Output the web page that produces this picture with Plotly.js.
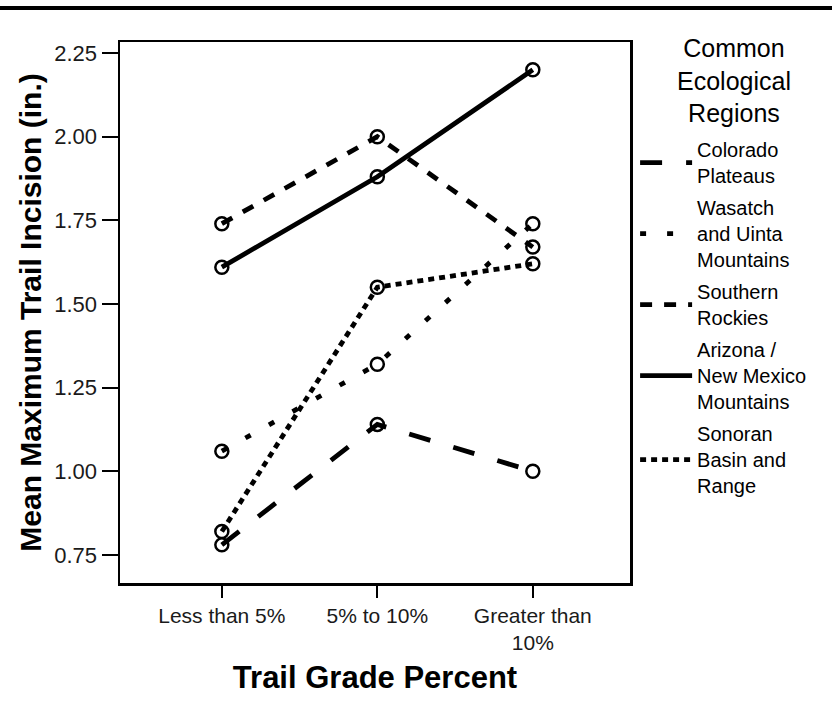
<!DOCTYPE html>
<html>
<head>
<meta charset="utf-8">
<script src="https://cdn.plot.ly/plotly-3.0.1.min.js"></script>
<style>html,body{margin:0;padding:0;background:#fff;}#chart{width:832px;height:701px;}</style>
</head>
<body>
<div id="chart"></div>
<script>
const categories = ["Less than 5%", "5% to 10%", "Greater than<br>10%"];
const seriesNames = ["Colorado<br>Plateaus", "Wasatch<br>and Uinta<br>Mountains", "Southern<br>Rockies", "Arizona /<br>New Mexico<br>Mountains", "Sonoran<br>Basin and<br>Range"];
const colorado = [0.78, 1.14, 1.00];
const wasatch = [1.06, 1.32, 1.74];
const southern = [1.74, 2.00, 1.67];
const arizona = [1.61, 1.88, 2.20];
const sonoran = [0.82, 1.55, 1.62];
const yTicks = [0.75, 1.00, 1.25, 1.50, 1.75, 2.00, 2.25];
const legendTitle = "Common<br>Ecological<br>Regions";

const series = [colorado, wasatch, southern, arizona, sonoran];
const dashes = ["22px,24px", "6px,21px", "12px,12px", "solid", "6px,5px"];

const FONT = "Liberation Sans, Arial, sans-serif";
const traces = [];
series.forEach((vals, i) => {
  traces.push({
    x: [0, 1, 2], y: vals, name: seriesNames[i], legendgroup: "g" + i,
    type: "scatter", mode: "lines",
    line: {color: "#000", width: 4.8, dash: dashes[i]}
  });
  traces.push({
    x: [0, 1, 2], y: vals, name: seriesNames[i], legendgroup: "g" + i, showlegend: false,
    type: "scatter", mode: "markers",
    marker: {symbol: "circle-open", size: 13, color: "#000", line: {width: 2.5, color: "#000"}}
  });
});

const layout = {
  width: 832, height: 701,
  margin: {l: 120, r: 202, t: 42, b: 118},
  paper_bgcolor: "#fff", plot_bgcolor: "#fff",
  font: {family: FONT, color: "#000"},
  showlegend: true,
  xaxis: {
    range: [-0.655, 2.625],
    tickvals: [0, 1, 2], ticktext: categories,
    ticks: "outside", ticklen: 12, tickwidth: 2, tickcolor: "#000",
    showline: true, linewidth: 2.5, linecolor: "#000", mirror: true,
    showgrid: false, zeroline: false,
    tickfont: {size: 21, color: "#1a1a1a"},
    title: {text: "<b>Trail Grade Percent</b>", font: {size: 31, family: FONT}, standoff: 14}
  },
  yaxis: {
    range: [0.666, 2.283],
    tickvals: yTicks, tickformat: ".2f",
    ticks: "outside", ticklen: 16, tickwidth: 2, tickcolor: "#000",
    showline: true, linewidth: 2.5, linecolor: "#000", mirror: true,
    showgrid: false, zeroline: false,
    tickfont: {size: 22, color: "#1a1a1a"},
    title: {text: "<b>Mean Maximum Trail Incision (in.)</b>", font: {size: 30, family: FONT}, standoff: 4}
  },
  legend: {
    x: 1.01, y: 0.837, xanchor: "left", yanchor: "top",
    font: {size: 20, family: FONT, color: "#000"},
    bgcolor: "rgba(0,0,0,0)", borderwidth: 0,
    itemwidth: 52, maxheight: 700,
    tracegroupgap: 3
  },
  annotations: [{
    xref: "paper", yref: "paper", x: (734 - 120) / 510, y: 1.018,
    xanchor: "center", yanchor: "top", align: "center", showarrow: false,
    text: legendTitle, font: {size: 25, family: FONT, color: "#000"}
  }],
  shapes: [{
    type: "line", xref: "paper", yref: "paper",
    x0: -0.3, x1: 1.5, y0: 1.063, y1: 1.063,
    line: {color: "#000", width: 4}
  }]
};

Plotly.newPlot("chart", traces, layout, {displayModeBar: false, staticPlot: true});
</script>
</body>
</html>
